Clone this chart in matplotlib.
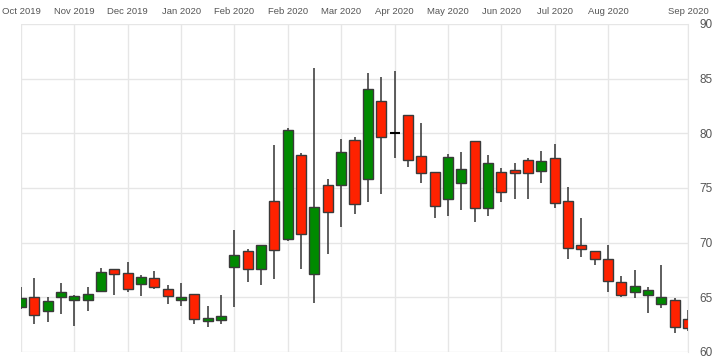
import numpy as np
import matplotlib
matplotlib.use("Agg")
import matplotlib.pyplot as plt

# weekly candles
opens = [64.1, 65.0, 63.75, 65.05, 64.75, 64.75, 65.6, 67.55, 67.2, 66.25,
         66.8, 65.75, 64.75, 65.3, 62.85, 62.9, 67.8, 69.2, 67.6, 73.85,
         70.35, 78.0, 67.15, 75.3, 75.3, 79.35, 75.85, 83.0, 80.0, 81.7,
         77.9, 76.5, 74.0, 75.45, 79.3, 73.15, 76.5, 76.65, 77.55, 76.6,
         77.7, 73.8, 69.75, 69.2, 68.55, 66.4, 65.5, 65.2, 64.35, 64.75, 63.05]
highs = [65.9, 66.75, 65.0, 66.3, 65.2, 65.95, 67.7, 67.6, 68.2, 67.05,
         67.4, 66.15, 66.3, 65.3, 64.2, 65.2, 71.15, 69.4, 69.75, 78.95,
         80.45, 78.2, 85.95, 75.8, 79.5, 79.7, 85.55, 85.15, 85.7, 81.7,
         80.9, 76.5, 78.15, 78.25, 79.3, 78.0, 76.8, 77.25, 77.7, 78.4,
         79.0, 75.05, 72.3, 69.2, 69.8, 66.95, 67.5, 65.9, 67.95, 64.95, 63.85]
lows = [63.9, 62.55, 62.7, 63.5, 62.4, 63.75, 65.5, 65.2, 65.45, 65.15,
        65.75, 64.35, 64.2, 62.6, 62.25, 62.6, 64.1, 66.4, 66.15, 66.7,
        70.15, 67.55, 64.5, 68.95, 71.45, 72.6, 73.75, 74.45, 77.7, 76.9,
        75.5, 72.3, 72.45, 73.0, 71.9, 72.45, 73.75, 74.0, 74.0, 75.5,
        73.2, 68.55, 68.65, 67.95, 65.45, 65.0, 64.95, 63.6, 64.05, 61.7, 61.9]
closes = [64.9, 63.35, 64.7, 65.45, 65.1, 65.35, 67.3, 67.1, 65.8, 66.9,
          65.95, 65.1, 65.05, 63.0, 63.15, 63.25, 68.9, 67.6, 69.75, 69.35,
          80.3, 70.75, 73.25, 72.85, 78.25, 73.55, 84.05, 79.7, 80.0, 77.55,
          76.35, 73.35, 77.85, 76.75, 73.2, 77.25, 74.6, 76.35, 76.35, 77.5,
          73.65, 69.55, 69.4, 68.5, 66.5, 65.25, 66.05, 65.65, 65.05, 62.25, 62.15]

tick_pos = [0, 4, 8, 12, 16, 20, 24, 28, 32, 36, 40, 44, 50]
tick_labels = ["Oct 2019", "Nov 2019", "Dec 2019", "Jan 2020", "Feb 2020",
               "Feb 2020", "Mar 2020", "Apr 2020", "May 2020", "Jun 2020",
               "Jul 2020", "Aug 2020", "Sep 2020"]
y_ticks = [60, 65, 70, 75, 80, 85, 90]

o = np.array(opens)
c = np.array(closes)
h = np.array(highs)
l = np.array(lows)
x = np.arange(len(o))

up = c > o
down = c < o
flat = c == o

fig = plt.figure(figsize=(7.16, 3.58), dpi=100)
ax = fig.add_axes([21 / 716, 6 / 358, 667 / 716, 328 / 358])

ax.vlines(x, l, h, color="#333333", lw=1.1, zorder=2)
ax.bar(x[up], (c - o)[up], bottom=o[up], width=0.75, color="#008a00",
       edgecolor="#3a3a3a", lw=1, zorder=3)
ax.bar(x[down], (o - c)[down], bottom=c[down], width=0.75, color="#ff2200",
       edgecolor="#3a3a3a", lw=1, zorder=3)
ax.hlines(o[flat], x[flat] - 0.375, x[flat] + 0.375, color="black", lw=1.5, zorder=3)

ax.set_xlim(0, 50)
ax.set_ylim(60, 90)
ax.set_xticks(tick_pos)
ax.set_xticklabels(tick_labels)
ax.set_yticks(y_ticks)
ax.xaxis.tick_top()
ax.yaxis.tick_right()
ax.tick_params(axis="x", length=0, pad=6, labelsize=6.8, labelcolor="#555555")
ax.tick_params(axis="y", length=0, pad=8, labelsize=8.5, labelcolor="#555555")
for lab in ax.get_xticklabels() + ax.get_yticklabels():
    lab.set_fontfamily("Liberation Sans")

ax.grid(True, color="#e6e6e6", lw=1)
ax.set_axisbelow(True)
for s in ["left", "bottom", "top"]:
    ax.spines[s].set_visible(False)
ax.spines["right"].set_color("#e6e6e6")

fig.savefig("out.png", dpi=100)
